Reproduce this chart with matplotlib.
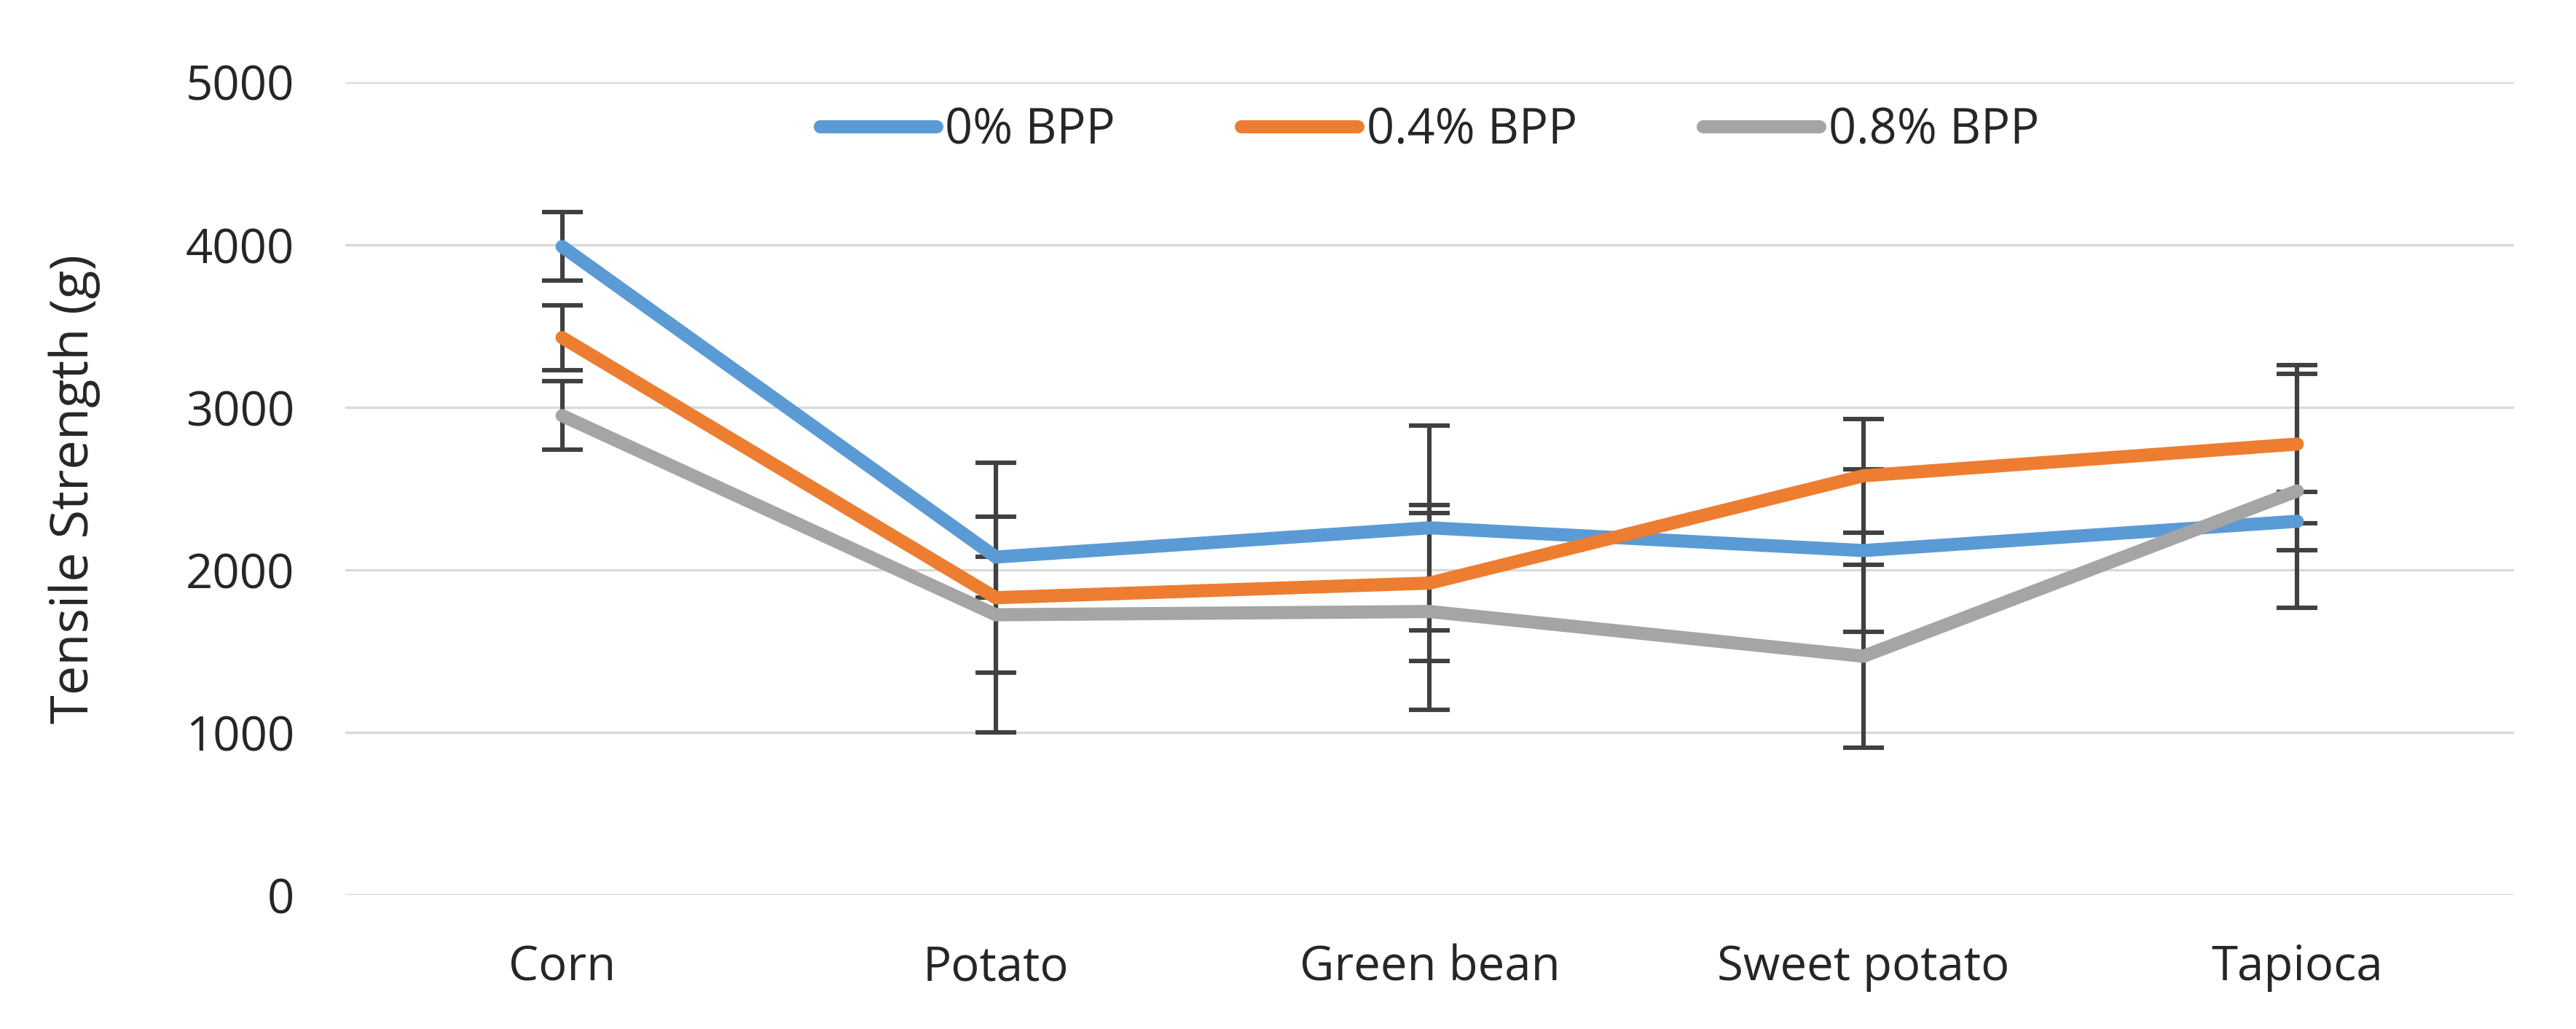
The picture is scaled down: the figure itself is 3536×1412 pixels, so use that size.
import matplotlib
matplotlib.use("Agg")
import matplotlib.pyplot as plt
import numpy as np

# ── Data ──────────────────────────────────────────────────────────────────────
categories = ["Corn", "Potato", "Green bean", "Sweet potato", "Tapioca"]

bpp_0   = [3990, 2080, 2260, 2120, 2300]
bpp_0_err = [210, 250, 630, 500, 180]

bpp_04  = [3430, 1830, 1920, 2580, 2775]
bpp_04_err = [200, 830, 480, 350, 487]

bpp_08  = [2950, 1725, 1745, 1470, 2487]
bpp_08_err = [210, 355, 605, 562, 720]

series_labels = ["0% BPP", "0.4% BPP", "0.8% BPP"]
colors = ["#5B9BD5", "#ED7D31", "#A5A5A5"]

plt.rcParams["font.family"] = ["Open Sans", "DejaVu Sans"]

fig = plt.figure(figsize=(17.68, 7.06), dpi=200)
ax = fig.add_axes([0.134, 0.130, 0.842, 0.790])

x = np.arange(len(categories))
for vals, errs, lab, col in zip([bpp_0, bpp_04, bpp_08],
                                [bpp_0_err, bpp_04_err, bpp_08_err],
                                series_labels, colors):
    ax.errorbar(x, vals, yerr=errs, fmt="none", ecolor="#404040",
                elinewidth=2.2, capsize=10, capthick=2.2, zorder=2)
    ax.plot(x, vals, color=col, lw=6.5, label=lab, zorder=3,
            solid_capstyle="round", solid_joinstyle="round")

ax.set_xlim(-0.5, len(categories) - 0.5)
ax.set_ylim(0, 5000)
ax.set_yticks(range(0, 5001, 1000))
ax.set_xticks(x)
ax.set_xticklabels(categories)
ax.grid(axis="y", color="#D9D9D9", lw=1.2, zorder=0)
ax.set_axisbelow(True)
for s in ax.spines.values():
    s.set_visible(False)
ax.tick_params(axis="both", length=0, labelsize=23.5, colors="#262626")
ax.tick_params(axis="y", pad=25)
ax.tick_params(axis="x", pad=24)

ax.set_ylabel("Tensile Strength (g)", fontsize=26, color="#262626", labelpad=42)

ax.legend(loc="center", bbox_to_anchor=(0.5, 0.94), ncol=3, frameon=False,
          fontsize=24, handlelength=2.4, handletextpad=0.17, columnspacing=2.6,
          labelcolor="#262626")

fig.savefig("out.png", dpi=200, facecolor="white")
